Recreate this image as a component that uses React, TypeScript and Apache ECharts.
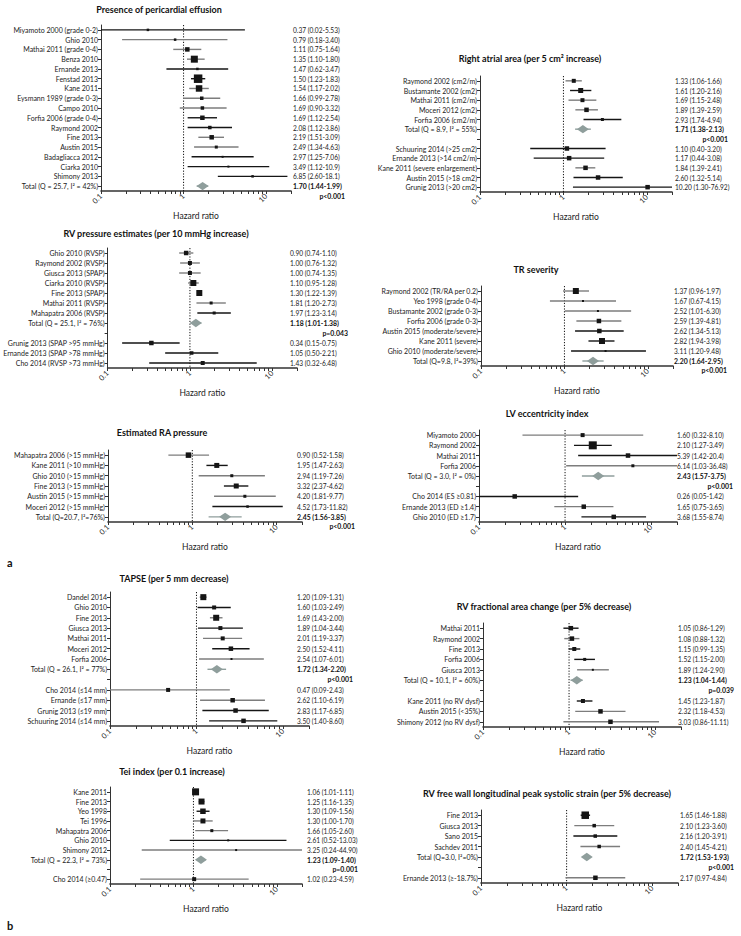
import React, { useEffect, useRef, useState } from "react";
import * as echarts from "echarts";

const FONT = "Lato";
const BLACK = "#151515";
const GRAY = "#7d7d7d";
const DIAMOND = "#8f9e9c";

// Hazard-ratio axis ticks
const hrTicks = [0.1, 0.2, 0.3, 0.4, 0.5, 0.6, 0.7, 0.8, 0.9, 1, 2, 3, 4, 5, 6, 7, 8, 9, 10, 20];
const hrTickLabels = [0.1, 1, 10];

// ---- Presence of pericardial effusion
const p1Title = "Presence of pericardial effusion";
const p1Studies = ["Miyamoto 2000 (grade 0-2)", "Ghio 2010", "Mathai 2011 (grade 0-4)", "Benza 2010", "Ernande 2013", "Fenstad 2013", "Kane 2011", "Eysmann 1989 (grade 0-3)", "Campo 2010", "Forfia 2006 (grade 0-4)", "Raymond 2002", "Fine 2013", "Austin 2015", "Badagliacca 2012", "Ciarka 2010", "Shimony 2013", "Total (Q = 25.7, I\u00b2 = 42%)"];
const p1HR = ["0.37", "0.79", "1.11", "1.35", "1.47", "1.50", "1.54", "1.66", "1.69", "1.69", "2.08", "2.19", "2.49", "2.97", "3.49", "6.85", "1.70"];
const p1Lo = ["0.02", "0.18", "0.75", "1.10", "0.62", "1.23", "1.17", "0.99", "0.90", "1.12", "1.12", "1.51", "1.34", "1.25", "1.12", "2.60", "1.44"];
const p1Hi = ["5.53", "3.40", "1.64", "1.80", "3.47", "1.83", "2.02", "2.78", "3.32", "2.54", "3.86", "3.09", "4.63", "7.06", "10.9", "18.1", "1.99"];
const p1P = "p<0.001";

// ---- RV pressure estimates
const p2Title = "RV pressure estimates (per 10 mmHg increase)";
const p2Studies = ["Ghio 2010 (RVSP)", "Raymond 2002 (RVSP)", "Giusca 2013 (SPAP)", "Ciarka 2010 (RVSP)", "Fine 2013 (SPAP)", "Mathai 2011 (RVSP)", "Mahapatra 2006 (RVSP)", "Total (Q = 25.1, I\u00b2 = 76%)", "", "Grunig 2013 (SPAP >95 mmHg)", "Ernande 2013 (SPAP >78 mmHg)", "Cho 2014 (RVSP >73 mmHg)"];
const p2HR = ["0.90", "1.00", "1.00", "1.10", "1.30", "1.81", "1.97", "1.18", "", "0.34", "1.05", "1.43"];
const p2Lo = ["0.74", "0.76", "0.74", "0.95", "1.22", "1.20", "1.23", "1.01", "", "0.15", "0.50", "0.32"];
const p2Hi = ["1.10", "1.32", "1.35", "1.28", "1.39", "2.73", "3.14", "1.38", "", "0.75", "2.21", "6.48"];
const p2P = "p=0.043";

// ---- Estimated RA pressure
const p3Title = "Estimated RA pressure";
const p3Studies = ["Mahapatra 2006 (>15 mmHg)", "Kane 2011 (>10 mmHg)", "Ghio 2010 (>15 mmHg)", "Fine 2013 (>15 mmHg)", "Austin 2015 (>15 mmHg)", "Moceri 2012 (>15 mmHg)", "Total (Q=20.7, I\u00b2=76%)"];
const p3HR = ["0.90", "1.95", "2.94", "3.32", "4.20", "4.52", "2.45"];
const p3Lo = ["0.52", "1.47", "1.19", "2.37", "1.81", "1.73", "1.56"];
const p3Hi = ["1.58", "2.63", "7.26", "4.62", "9.77", "11.82", "3.85"];
const p3P = "p<0.001";

// ---- TAPSE
const p4Title = "TAPSE (per 5 mm decrease)";
const p4Studies = ["Dandel 2014", "Ghio 2010", "Fine 2013", "Giusca 2013", "Mathai 2011", "Moceri 2012", "Forfia 2006", "Total (Q = 26.1, I\u00b2 = 77%)", "", "Cho 2014 (\u226414 mm)", "Ernande (\u226417 mm)", "Grunig 2013 (\u226419 mm)", "Schuuring 2014 (\u226414 mm)"];
const p4HR = ["1.20", "1.60", "1.69", "1.89", "2.01", "2.50", "2.54", "1.72", "", "0.47", "2.62", "2.83", "3.50"];
const p4Lo = ["1.09", "1.03", "1.43", "1.04", "1.19", "1.52", "1.07", "1.34", "", "0.09", "1.10", "1.17", "1.40"];
const p4Hi = ["1.31", "2.49", "2.00", "3.44", "3.37", "4.11", "6.01", "2.20", "", "2.43", "6.19", "6.85", "8.60"];
const p4P = "p<0.001";

// ---- Tei index
const p5Title = "Tei index (per 0.1 increase)";
const p5Studies = ["Kane 2011", "Fine 2013", "Yeo 1998", "Tei 1996", "Mahapatra 2006", "Ghio 2010", "Shimony 2012", "Total (Q = 22.3, I\u00b2 = 73%)", "", "Cho 2014 (\u22650.47)"];
const p5HR = ["1.06", "1.25", "1.30", "1.30", "1.66", "2.61", "3.25", "1.23", "", "1.02"];
const p5Lo = ["1.01", "1.16", "1.09", "1.00", "1.05", "0.52", "0.24", "1.09", "", "0.23"];
const p5Hi = ["1.11", "1.35", "1.56", "1.70", "2.60", "13.03", "44.90", "1.40", "", "4.59"];
const p5P = "p=0.001";

// ---- Right atrial area
const p6Title = "Right atrial area (per 5 cm\u00b2 increase)";
const p6Studies = ["Raymond 2002 (cm2/m)", "Bustamante 2002 (cm2)", "Mathai 2011 (cm2/m)", "Moceri 2012 (cm2)", "Forfia 2006 (cm2/m)", "Total (Q = 8.9, I\u00b2 = 55%)", "", "Schuuring 2014 (>25 cm2)", "Ernande 2013 (>14 cm2/m)", "Kane 2011 (severe enlargement)", "Austin 2015 (>18 cm2)", "Grunig 2013 (>20 cm2)"];
const p6HR = ["1.33", "1.61", "1.69", "1.89", "2.93", "1.71", "", "1.10", "1.17", "1.84", "2.60", "10.20"];
const p6Lo = ["1.06", "1.20", "1.15", "1.39", "1.74", "1.38", "", "0.40", "0.44", "1.39", "1.32", "1.30"];
const p6Hi = ["1.66", "2.16", "2.48", "2.59", "4.94", "2.13", "", "3.20", "3.08", "2.41", "5.14", "76.92"];
const p6P = "p<0.001";

// ---- TR severity
const p7Title = "TR severity";
const p7Studies = ["Raymond 2002 (TR/RA per 0.2)", "Yeo 1998 (grade 0-4)", "Bustamante 2002 (grade 0-3)", "Forfia 2006 (grade 0-3)", "Austin 2015 (moderate/severe)", "Kane 2011 (severe)", "Ghio 2010 (moderate/severe)", "Total (Q=9.8, I\u00b2=39%)"];
const p7HR = ["1.37", "1.67", "2.52", "2.59", "2.62", "2.82", "3.11", "2.20"];
const p7Lo = ["0.96", "0.67", "1.01", "1.39", "1.34", "1.94", "1.20", "1.64"];
const p7Hi = ["1.97", "4.15", "6.30", "4.81", "5.13", "3.98", "9.48", "2.95"];
const p7P = "p<0.001";

// ---- LV eccentricity index
const p8Title = "LV eccentricity index";
const p8Studies = ["Miyamoto 2000", "Raymond 2002", "Mathai 2011", "Forfia 2006", "Total (Q = 3.0, I\u00b2 = 0%)", "", "Cho 2014 (ES \u22650.81)", "Ernande 2013 (ED \u22651.4)", "Ghio 2010 (ED \u22651.7)"];
const p8HR = ["1.60", "2.10", "5.39", "6.14", "2.43", "", "0.26", "1.65", "3.68"];
const p8Lo = ["0.32", "1.27", "1.42", "1.03", "1.57", "", "0.05", "0.75", "1.55"];
const p8Hi = ["8.10", "3.49", "20.4", "36.48", "3.75", "", "1.42", "3.65", "8.74"];
const p8P = "p<0.001";

// ---- RV fractional area change
const p9Title = "RV fractional area change (per 5% decrease)";
const p9Studies = ["Mathai 2011", "Raymond 2002", "Fine 2013", "Forfia 2006", "Giusca 2013", "Total (Q = 10.1, I\u00b2 = 60%)", "", "Kane 2011 (no RV dysf)", "Austin 2015 (<35%)", "Shimony 2012 (no RV dysf)"];
const p9HR = ["1.05", "1.08", "1.15", "1.52", "1.89", "1.23", "", "1.45", "2.32", "3.03"];
const p9Lo = ["0.86", "0.88", "0.99", "1.15", "1.24", "1.04", "", "1.23", "1.18", "0.86"];
const p9Hi = ["1.29", "1.32", "1.35", "2.00", "2.90", "1.44", "", "1.87", "4.53", "11.11"];
const p9P = "p=0.039";

// ---- RV free wall longitudinal strain
const p10Title = "RV free wall longitudinal peak systolic strain (per 5% decrease)";
const p10Studies = ["Fine 2013", "Giusca 2013", "Sano 2015", "Sachdev 2011", "Total (Q=3.0, I\u00b2=0%)", "", "Ernande 2013 (\u2265-18.7%)"];
const p10HR = ["1.65", "2.10", "2.16", "2.40", "1.72", "", "2.17"];
const p10Lo = ["1.46", "1.23", "1.20", "1.45", "1.53", "", "0.97"];
const p10Hi = ["1.88", "3.60", "3.91", "4.21", "1.93", "", "4.84"];
const p10P = "p<0.001";

// ---- styles: marker size (px) and CI-line shade (1 = grey) per row
const p1Size = [2.5, 2.5, 4.5, 7, 2.5, 8.5, 6.5, 3.5, 3.5, 4.5, 3.5, 4.5, 3, 2, 2, 2.5, 0];
const p1Grey = [0, 1, 1, 1, 0, 0, 1, 1, 1, 0, 0, 1, 1, 0, 0, 0, 0];
const p2Size = [4.5, 4, 4, 6, 6, 3, 3, 0, 0, 4.5, 3.5, 4];
const p2Grey = [1, 1, 1, 1, 0, 1, 0, 0, 0, 0, 0, 0];
const p3Size = [5.5, 5, 3, 5, 3, 2.5, 0];
const p3Grey = [1, 0, 1, 0, 1, 0, 0];
const p4Size = [6, 4, 6, 4, 4, 4.5, 2, 0, 0, 4, 4.5, 4.5, 4.5];
const p4Grey = [1, 0, 1, 0, 1, 0, 1, 0, 0, 1, 1, 0, 0];
const p5Size = [7, 6, 5.5, 5, 3, 2, 2, 0, 0, 4];
const p5Grey = [0, 0, 0, 1, 1, 0, 1, 0, 0, 1];
const p6Size = [4, 5, 4, 4.5, 3, 0, 0, 4.5, 4.5, 4.5, 4.5, 4.5];
const p6Grey = [1, 0, 1, 1, 0, 0, 0, 0, 0, 1, 0, 0];
const p7Size = [6, 2, 2, 4.5, 4.5, 6, 2, 0];
const p7Grey = [1, 1, 1, 1, 0, 0, 0, 0];
const p8Size = [4, 8, 4.5, 3, 0, 0, 4.5, 4.5, 4.5];
const p8Grey = [1, 0, 0, 1, 0, 0, 0, 1, 0];
const p9Size = [4.5, 4.5, 4, 3, 2, 0, 0, 4, 4.5, 4.5];
const p9Grey = [0, 1, 0, 0, 1, 0, 0, 0, 1, 1];
const p10Size = [7.5, 3.5, 3.5, 3.5, 0, 0, 4.5];
const p10Grey = [0, 1, 0, 1, 0, 0, 1];

type Layout = { L: number; R: number; T: number; B: number; vx: number; px: number; py: number; tx: number; ty: number };

const panels = [
  { title: p1Title, studies: p1Studies, hr: p1HR, lo: p1Lo, hi: p1Hi, p: p1P, size: p1Size, grey: p1Grey, lay: { L: 101, R: 291, T: 25, B: 191, vx: 293, px: 345, py: 196, tx: 159, ty: 9 } },
  { title: p2Title, studies: p2Studies, hr: p2HR, lo: p2Lo, hi: p2Hi, p: p2P, size: p2Size, grey: p2Grey, lay: { L: 106, R: 297, T: 248, B: 368, vx: 290, px: 348, py: 333, tx: 156, ty: 233 } },
  { title: p3Title, studies: p3Studies, hr: p3HR, lo: p3Lo, hi: p3Hi, p: p3P, size: p3Size, grey: p3Grey, lay: { L: 108, R: 302, T: 450, B: 522, vx: 297, px: 355, py: 526, tx: 162, ty: 432 } },
  { title: p4Title, studies: p4Studies, hr: p4HR, lo: p4Lo, hi: p4Hi, p: p4P, size: p4Size, grey: p4Grey, lay: { L: 110, R: 309, T: 592, B: 726, vx: 297, px: 353, py: 679, tx: 174, ty: 578 } },
  { title: p5Title, studies: p5Studies, hr: p5HR, lo: p5Lo, hi: p5Hi, p: p5P, size: p5Size, grey: p5Grey, lay: { L: 110, R: 302, T: 787, B: 884, vx: 307, px: 358, py: 869, tx: 172, ty: 771 } },
  { title: p6Title, studies: p6Studies, hr: p6HR, lo: p6Lo, hi: p6Hi, p: p6P, size: p6Size, grey: p6Grey, lay: { L: 480, R: 672, T: 76, B: 192, vx: 675, px: 728, py: 139, tx: 530, ty: 58 } },
  { title: p7Title, studies: p7Studies, hr: p7HR, lo: p7Lo, hi: p7Hi, p: p7P, size: p7Size, grey: p7Grey, lay: { L: 481, R: 673, T: 286, B: 366, vx: 674, px: 727, py: 370, tx: 536, ty: 269 } },
  { title: p8Title, studies: p8Studies, hr: p8HR, lo: p8Lo, hi: p8Hi, p: p8P, size: p8Size, grey: p8Grey, lay: { L: 479, R: 677, T: 430, B: 522, vx: 677, px: 733, py: 486, tx: 547, ty: 413 } },
  { title: p9Title, studies: p9Studies, hr: p9HR, lo: p9Lo, hi: p9Hi, p: p9P, size: p9Size, grey: p9Grey, lay: { L: 483, R: 681, T: 623, B: 727, vx: 678, px: 734, py: 690, tx: 544, ty: 606 } },
  { title: p10Title, studies: p10Studies, hr: p10HR, lo: p10Lo, hi: p10Hi, p: p10P, size: p10Size, grey: p10Grey, lay: { L: 481, R: 678, T: 810, B: 883, vx: 680, px: 734, py: 867, tx: 547, ty: 793 } },
];

// data item: [est, row, lo, hi, size, grey, isTotal]
const renderItem = (params: any, api: any) => {
  const est = api.value(0), row = api.value(1), lo = api.value(2), hi = api.value(3);
  const size = api.value(4), grey = api.value(5), total = api.value(6);
  const a = api.coord([lo, row]);
  const b = api.coord([hi, row]);
  const c = api.coord([est, row]);
  const cs = params.coordSys;
  const stroke = total ? DIAMOND : grey ? GRAY : BLACK;
  const children: any[] = [];
  if (params.dataIndex === 0) {
    const ref = api.coord([1, row]);
    children.push({
      type: "line",
      shape: { x1: ref[0], y1: cs.y, x2: ref[0], y2: cs.y + cs.height },
      style: { stroke: "#111", lineWidth: 1, lineDash: [1.2, 1.6] },
    });
  }
  const x1 = Math.max(a[0], cs.x), x2 = Math.min(b[0], cs.x + cs.width);
  children.push({ type: "line", shape: { x1, y1: a[1], x2, y2: b[1] }, style: { stroke, lineWidth: 1.4 } });
  if (total) {
    children.push({
      type: "polygon",
      shape: { points: [[c[0] - 6, c[1]], [c[0], c[1] - 4.2], [c[0] + 6, c[1]], [c[0], c[1] + 4.2]] },
      style: { fill: DIAMOND },
    });
  } else {
    children.push({ type: "rect", shape: { x: c[0] - size / 2, y: c[1] - size / 2, width: size, height: size }, style: { fill: BLACK } });
  }
  return { type: "group", children };
};

export default function App() {
  const ref = useRef<HTMLDivElement>(null);
  const [err, setErr] = useState("");
  useEffect(() => {
    if (!ref.current) return;
    const chart = echarts.init(ref.current, undefined, { renderer: "svg" });
    try {
      const grid: any[] = [];
      const xAxis: any[] = [];
      const yAxis: any[] = [];
      const series: any[] = [];
      const graphic: any[] = [];
      panels.forEach((pn, i) => {
        const lay: Layout = pn.lay;
        const totalIdx = pn.studies.findIndex((s) => s.startsWith("Total"));
        const valueTexts = pn.studies.map((_, k) => (pn.hr[k] ? `${pn.hr[k]} (${pn.lo[k]}-${pn.hi[k]})` : " "));
        const rows: any[] = [];
        pn.studies.forEach((_, k) => {
          if (pn.hr[k]) rows.push([parseFloat(pn.hr[k]), k, parseFloat(pn.lo[k]), parseFloat(pn.hi[k]), pn.size[k], pn.grey[k], k === totalIdx ? 1 : 0]);
        });
        grid.push({ left: lay.L, top: lay.T, width: lay.R - lay.L, height: lay.B - lay.T });
        xAxis.push({
          type: "log",
          logBase: 10,
          gridIndex: i,
          min: 0.1,
          max: 20,
          axisLine: { show: true, onZero: false, lineStyle: { color: "#333", width: 1.6 } },
          axisTick: { show: true, length: 3, customValues: hrTicks, lineStyle: { color: "#333", width: 1 } },
          axisLabel: {
            customValues: hrTickLabels,
            rotate: 45,
            fontSize: 7.5,
            fontFamily: FONT,
            color: "#222",
            margin: 4,
            formatter: (v: number) => String(+Number(v).toPrecision(3)),
          },
          splitLine: { show: false },
          name: "Hazard ratio",
          nameLocation: "middle",
          nameGap: 20,
          nameTextStyle: { fontSize: 8.5, color: "#222", fontFamily: FONT },
        });
        yAxis.push({
          type: "category",
          gridIndex: i,
          inverse: true,
          data: pn.studies.map((s) => (s === "" ? " " : s)),
          axisLine: { show: true, lineStyle: { color: "#333", width: 1 } },
          axisTick: { show: true, alignWithLabel: true, interval: 0, length: 3, lineStyle: { color: "#333" } },
          axisLabel: { interval: 0, fontSize: 7, fontFamily: FONT, color: "#222", margin: 3 },
          splitLine: { show: false },
        });
        yAxis.push({
          type: "category",
          gridIndex: i,
          inverse: true,
          position: "right",
          offset: lay.vx - lay.R,
          data: valueTexts,
          axisLine: { show: false },
          axisTick: { show: false },
          splitLine: { show: false },
          axisLabel: {
            interval: 0,
            margin: 0,
            fontSize: 6.6,
            fontFamily: FONT,
            color: "#222",
            formatter: (v: string, idx: number) => (idx === totalIdx ? `{b|${v}}` : v),
            rich: { b: { fontWeight: "bold", fontSize: 6.9, fontFamily: FONT, color: "#111" } },
          },
        });
        series.push({
          type: "custom",
          xAxisIndex: i,
          yAxisIndex: 2 * i,
          clip: true,
          silent: true,
          renderItem,
          data: rows,
        });
        graphic.push({
          type: "text",
          x: lay.tx,
          y: lay.ty,
          style: { text: pn.title, fontSize: 9, fontWeight: "bold", fontFamily: FONT, fill: "#111", align: "center", verticalAlign: "middle" },
        });
        graphic.push({
          type: "text",
          x: lay.px,
          y: lay.py,
          style: { text: pn.p, fontSize: 6.9, fontWeight: "bold", fontFamily: FONT, fill: "#111", align: "right", verticalAlign: "middle" },
        });
      });
      graphic.push({ type: "text", x: 7, y: 562, style: { text: "a", fontSize: 11, fontWeight: "bold", fontFamily: FONT, fill: "#111", verticalAlign: "middle" } });
      graphic.push({ type: "text", x: 7, y: 925, style: { text: "b", fontSize: 11, fontWeight: "bold", fontFamily: FONT, fill: "#111", verticalAlign: "middle" } });

      chart.setOption({
        animation: false,
        backgroundColor: "#ffffff",
        textStyle: { fontFamily: FONT },
        grid,
        xAxis,
        yAxis,
        series,
        graphic,
      });
    } catch (e: any) {
      setErr(String(e && e.stack ? e.stack : e));
    }
    return () => chart.dispose();
  }, []);
  return (
    <>
      <div ref={ref} style={{ position: "absolute", left: 0, top: 0, width: 741, height: 936 }} />
      {err ? <pre style={{ position: "absolute", left: 0, top: 0, fontSize: 9, whiteSpace: "pre-wrap", width: 740 }}>{err}</pre> : null}
    </>
  );
}
